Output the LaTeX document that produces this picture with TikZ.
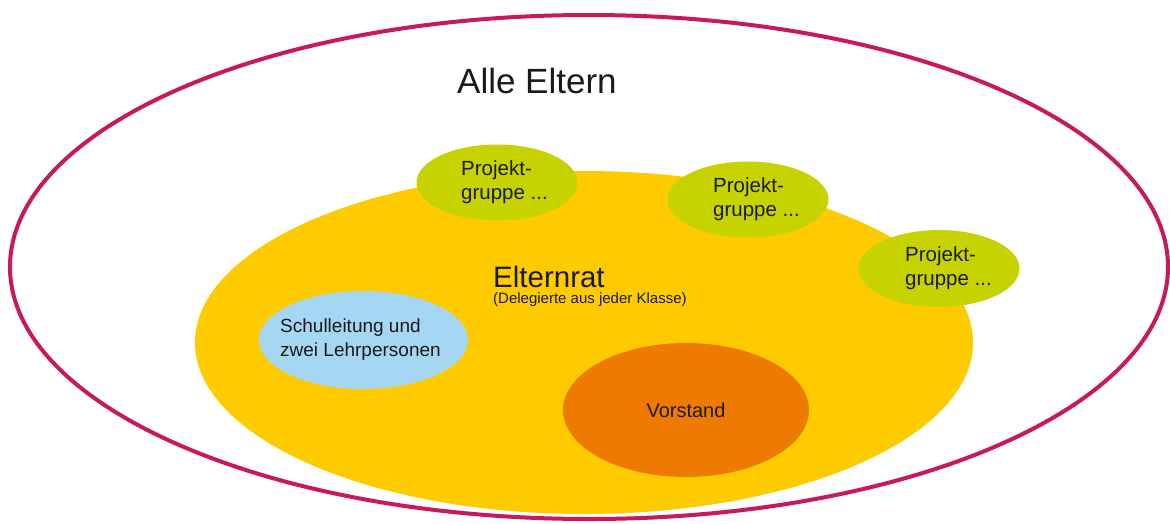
\documentclass[tikz,border=0pt]{standalone}
\usepackage{fontspec}
\setmainfont{Liberation Sans}
\usetikzlibrary{shapes.geometric}
\definecolor{rim}{HTML}{C8195E}
\definecolor{ratyellow}{HTML}{FECB00}
\definecolor{projgreen}{HTML}{C6D300}
\definecolor{schulblue}{HTML}{A6D7F2}
\definecolor{vorstandorange}{HTML}{EE7B00}
\definecolor{txt}{HTML}{1A1A1A}
\tikzset{
  blob/.style={ellipse, inner sep=0pt, outer sep=0pt},
  projblob/.style={blob, fill=projgreen, minimum width=161pt, minimum height=76pt},
  projtxt/.style={anchor=west, inner sep=0pt, text=txt, align=left,
    font=\fontsize{20.5}{24}\selectfont},
  lbl/.style={anchor=base west, inner sep=0pt, text=txt}
}
\begin{document}
\begin{tikzpicture}[x=1pt,y=-1pt]
\useasboundingbox (0,0) rectangle (1170,523);
\fill[white] (0,0) rectangle (1170,523);
% outer ellipse: Alle Eltern
\node[ellipse, draw=rim, line width=4pt, minimum width=1158pt, minimum height=504pt, inner sep=0pt] (alle) at (589,267) {};
% Elternrat
\node[blob, fill=ratyellow, minimum width=778pt, minimum height=343pt] (rat) at (584,342.5) {};
% project groups
\node[projblob] (pg1) at (497,182.5) {};
\node[projblob] (pg2) at (748,199.5) {};
\node[projblob, minimum height=77pt] (pg3) at (939,268.5) {};
\node[projtxt] (pg1t) at (461,182.5) {Projekt-\\gruppe ...};
\node[projtxt] (pg2t) at (713,199.5) {Projekt-\\gruppe ...};
\node[projtxt] (pg3t) at (905,268.5) {Projekt-\\gruppe ...};
% Schulleitung
\node[blob, fill=schulblue, minimum width=209pt, minimum height=98pt] (schul) at (363.5,340) {};
\node[projtxt, font=\fontsize{19}{24}\selectfont] (schult) at (280,340) {Schulleitung und\\zwei Lehrpersonen};
% Vorstand
\node[blob, fill=vorstandorange, minimum width=246pt, minimum height=134pt,
  text=txt, font=\fontsize{20}{24}\selectfont] (vor) at (686,410) {Vorstand};
% labels
\node[lbl, font=\fontsize{35}{42}\selectfont] (alletxt) at (457,93) {Alle Eltern};
\node[lbl, font=\fontsize{29.5}{34}\selectfont] (rattxt) at (493,287) {Elternrat};
\node[lbl, font=\fontsize{15}{18}\selectfont] (deltxt) at (493,303) {(Delegierte aus jeder Klasse)};
\end{tikzpicture}
\end{document}
